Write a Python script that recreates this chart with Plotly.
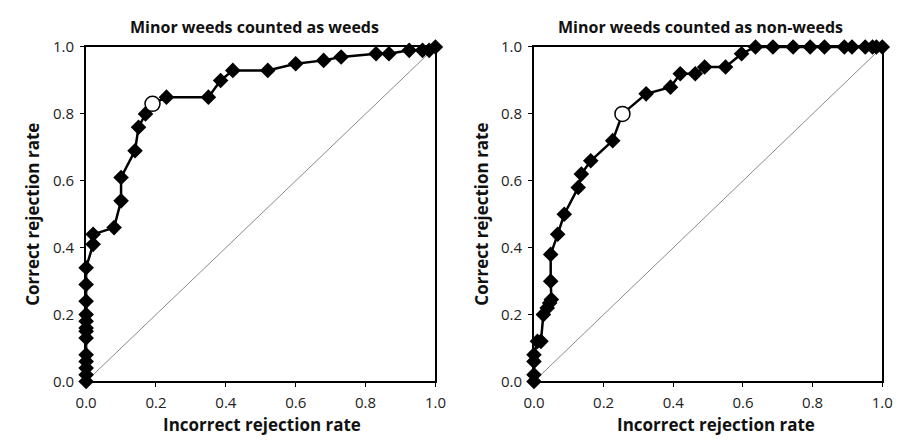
import plotly.graph_objects as go

# Left panel: minor weeds counted as weeds
left_x = [0, 0, 0, 0, 0, 0, 0, 0, 0, 0, 0, 0, 0, 0.02, 0.02, 0.08, 0.10, 0.10, 0.14, 0.15, 0.17,
          0.19, 0.23, 0.35, 0.385, 0.42, 0.52, 0.60, 0.68, 0.73, 0.83, 0.867, 0.925, 0.963, 0.982, 1.0]
left_y = [0, 0.02, 0.04, 0.06, 0.08, 0.13, 0.15, 0.16, 0.18, 0.20, 0.24, 0.29, 0.34, 0.41, 0.44, 0.46,
          0.54, 0.61, 0.69, 0.76, 0.80, 0.83, 0.85, 0.85, 0.90, 0.93, 0.93, 0.95, 0.96, 0.97, 0.98, 0.98,
          0.99, 0.99, 0.99, 1.0]
left_op_x = [0.19]
left_op_y = [0.83]

# Right panel: minor weeds counted as non-weeds
right_x = [0, 0, 0, 0, 0.01, 0.02, 0.027, 0.038, 0.045, 0.05, 0.048, 0.048, 0.068, 0.087, 0.127, 0.136,
           0.163, 0.226, 0.254, 0.322, 0.392, 0.42, 0.463, 0.49, 0.55, 0.596, 0.636, 0.686, 0.744,
           0.793, 0.834, 0.891, 0.913, 0.951, 0.972, 0.983, 1.0]
right_y = [0, 0.02, 0.06, 0.08, 0.12, 0.12, 0.20, 0.22, 0.235, 0.245, 0.30, 0.38, 0.44, 0.50, 0.58, 0.62,
           0.66, 0.72, 0.80, 0.86, 0.88, 0.92, 0.92, 0.94, 0.94, 0.98, 1.0, 1.0, 1.0, 1.0, 1.0, 1.0,
           1.0, 1.0, 1.0, 1.0, 1.0]
right_op_x = [0.254]
right_op_y = [0.80]

diag = [0, 1]
tick_vals = [0, 0.2, 0.4, 0.6, 0.8, 1.0]
tick_text = ["0.0", "0.2", "0.4", "0.6", "0.8", "1.0"]

titles = ["Minor weeds counted as weeds", "Minor weeds counted as non-weeds"]
x_title = "Incorrect rejection rate"
y_title = "Correct rejection rate"

W, H = 905, 443
FONT = "Open Sans"

fig = go.Figure()

panels = [
    (left_x, left_y, left_op_x, left_op_y, "x", "y"),
    (right_x, right_y, right_op_x, right_op_y, "x2", "y2"),
]
for px, py, ox, oy, xa, ya in panels:
    fig.add_trace(go.Scatter(x=diag, y=diag, mode="lines", xaxis=xa, yaxis=ya,
                             line=dict(color="#8a8a8a", width=1), showlegend=False, hoverinfo="skip"))
    fig.add_trace(go.Scatter(x=px, y=py, mode="lines+markers", xaxis=xa, yaxis=ya,
                             line=dict(color="black", width=2.5),
                             marker=dict(symbol="diamond", size=12, color="black"),
                             cliponaxis=False, showlegend=False))
    fig.add_trace(go.Scatter(x=ox, y=oy, mode="markers", xaxis=xa, yaxis=ya,
                             marker=dict(symbol="circle", size=15, color="white",
                                         line=dict(color="black", width=1.5)),
                             cliponaxis=False, showlegend=False))

ydom = [(443 - 388) / H, (443 - 37.7) / H]
xdoms = [[77 / W, 435 / W], [536 / W, 893 / W]]

axis_common = dict(range=[0, 1], showgrid=False, zeroline=False, showline=True, mirror=True,
                   linecolor="black", linewidth=2, ticks="outside", ticklen=4, tickwidth=1,
                   tickcolor="black", tickvals=tick_vals, ticktext=tick_text,
                   ticklabelstandoff=3,
                   tickfont=dict(family=FONT, size=15, color="#222"), fixedrange=True)

fig.update_layout(
    width=W, height=H, margin=dict(l=0, r=0, t=0, b=0),
    paper_bgcolor="white", plot_bgcolor="white",
    xaxis=dict(domain=xdoms[0], anchor="y", **axis_common),
    yaxis=dict(domain=ydom, anchor="x", **axis_common),
    xaxis2=dict(domain=xdoms[1], anchor="y2", **axis_common),
    yaxis2=dict(domain=ydom, anchor="x2", **axis_common),
)

annotations = []
title_cx = [250, 707]
xtitle_cx = [257, 723]
ytitle_x = [22, 482]
for i in range(2):
    annotations.append(dict(text="<b>%s</b>" % titles[i], x=title_cx[i] / W, y=1 - 17 / H,
                            xref="paper", yref="paper", showarrow=False, xanchor="center",
                            yanchor="middle", font=dict(family=FONT, size=16, color="#111")))
    annotations.append(dict(text="<b>%s</b>" % x_title, x=xtitle_cx[i] / W, y=1 - 433 / H,
                            xref="paper", yref="paper", showarrow=False, xanchor="center",
                            yanchor="middle", font=dict(family=FONT, size=17, color="#111")))
    annotations.append(dict(text="<b>%s</b>" % y_title, x=ytitle_x[i] / W, y=1 - 213 / H,
                            xref="paper", yref="paper", showarrow=False, xanchor="center",
                            yanchor="middle", textangle=-90,
                            font=dict(family=FONT, size=17, color="#111")))
fig.update_layout(annotations=annotations)

fig.write_html("out.html")
